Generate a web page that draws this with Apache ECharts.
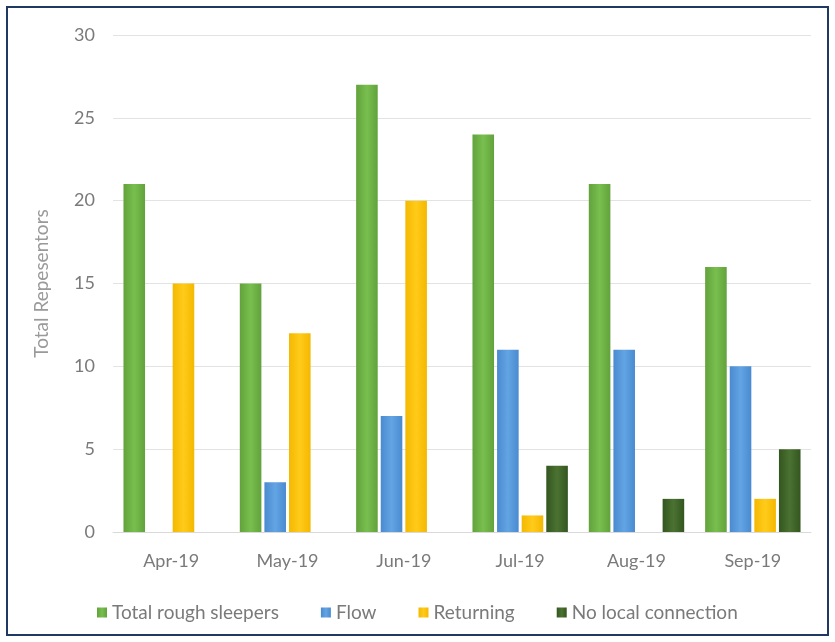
<!DOCTYPE html>
<html>
<head>
<meta charset="utf-8">
<script src="https://cdn.jsdelivr.net/npm/echarts@6/dist/echarts.min.js"></script>
<style>
  html, body { margin: 0; padding: 0; background: #fff; }
  #chart { width: 835px; height: 642px; }
</style>
</head>
<body>
<div id="chart"></div>
<script>
var months = ['Apr-19', 'May-19', 'Jun-19', 'Jul-19', 'Aug-19', 'Sep-19'];
var total_rough = [21, 15, 27, 24, 21, 16];
var flow = [0, 3, 7, 11, 11, 10];
var returning = [15, 12, 20, 1, 0, 2];
var no_local = [0, 0, 0, 4, 2, 5];
var y_ticks = [0, 5, 10, 15, 20, 25, 30];

function grad(c1, c2) {
  return new echarts.graphic.LinearGradient(0, 0, 1, 0, [
    { offset: 0, color: c1 },
    { offset: 0.5, color: c2 },
    { offset: 1, color: c1 }
  ]);
}

var chartDom = document.getElementById('chart');
var myChart = echarts.init(chartDom);
var font = 'Lato, "Open Sans", sans-serif';

function barSeries(name, data, c1, c2) {
  return {
    name: name,
    type: 'bar',
    data: data.map(function (v) { return v === 0 ? null : v; }),
    barGap: '14%',
    barCategoryGap: '18%',
    itemStyle: { color: grad(c1, c2) },
    animation: false
  };
}

var option = {
  backgroundColor: '#fff',
  textStyle: { fontFamily: font },
  graphic: [{
    type: 'rect',
    shape: { x: 7, y: 7, width: 821, height: 628 },
    style: { fill: 'none', stroke: '#1f3864', lineWidth: 2 },
    silent: true
  }],
  grid: { left: 113, right: 24, top: 35, bottom: 110 },
  legend: {
    top: 598,
    left: 92,
    itemWidth: 10,
    itemHeight: 10,
    itemGap: 42,
    icon: 'rect',
    textStyle: { color: '#7a7a7a', fontSize: 19, fontFamily: font },
    data: ['Total rough sleepers', 'Flow', 'Returning', 'No local connection']
  },
  xAxis: {
    type: 'category',
    data: months,
    axisTick: { show: false },
    axisLine: { lineStyle: { color: '#d9d9d9' } },
    axisLabel: { color: '#7a7a7a', fontSize: 18, margin: 20 }
  },
  yAxis: {
    type: 'value',
    min: y_ticks[0],
    max: y_ticks[y_ticks.length - 1],
    interval: 5,
    name: 'Total Repesentors',
    nameLocation: 'middle',
    nameGap: 62,
    nameTextStyle: { color: '#9a9a9a', fontSize: 19 },
    axisLabel: { color: '#7a7a7a', fontSize: 18, margin: 18 },
    splitLine: { lineStyle: { color: '#e3e3e3' } }
  },
  series: [
    barSeries('Total rough sleepers', total_rough, '#62a23b', '#78bf4f'),
    barSeries('Flow', flow, '#4a8bd0', '#63a4e4'),
    barSeries('Returning', returning, '#f4b800', '#ffcb1a'),
    barSeries('No local connection', no_local, '#33561f', '#4b7232')
  ]
};

myChart.setOption(option);
</script>
</body>
</html>
